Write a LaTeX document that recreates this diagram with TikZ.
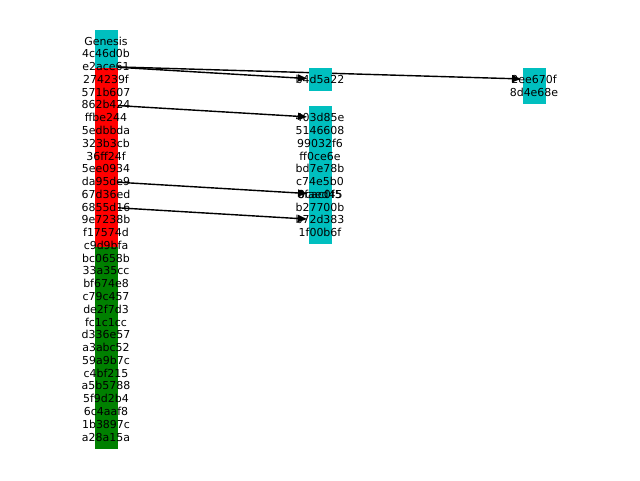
\documentclass[tikz,border=0pt]{standalone}
\usepackage{fontspec}
\setmainfont{DejaVu Sans}
\usepackage{tikz-network}
\usetikzlibrary{arrows.meta}
\definecolor{hashcyan}{rgb}{0,0.75,0.75}
\definecolor{hashred}{rgb}{1,0,0}
\definecolor{hashgreen}{rgb}{0,0.5,0}
\newcommand{\hashfont}{\fontsize{7.8}{9}\selectfont}
\tikzset{hashbox/.style={draw=none},
  forkarrow/.style={-{Triangle[length=6.5pt,width=5pt]}, shorten >=1pt}}

\begin{document}
\begin{tikzpicture}
\useasboundingbox (0,0) rectangle (16,-12);
% main chain
\Vertex[x=2.65, y=-1.025, size=0.575, shape=rectangle, color=hashcyan, opacity=1, style=hashbox, NoLabel]{Genesis}
\Vertex[x=2.65, y=-1.344, size=0.575, shape=rectangle, color=hashcyan, opacity=1, style=hashbox, NoLabel]{4c46d0b}
\Vertex[x=2.65, y=-1.664, size=0.575, shape=rectangle, color=hashcyan, opacity=1, style=hashbox, NoLabel]{e2ace61}
\Vertex[x=2.65, y=-1.983, size=0.575, shape=rectangle, color=hashred, opacity=1, style=hashbox, NoLabel]{274239f}
\Vertex[x=2.65, y=-2.302, size=0.575, shape=rectangle, color=hashred, opacity=1, style=hashbox, NoLabel]{571b607}
\Vertex[x=2.65, y=-2.622, size=0.575, shape=rectangle, color=hashred, opacity=1, style=hashbox, NoLabel]{862b424}
\Vertex[x=2.65, y=-2.941, size=0.575, shape=rectangle, color=hashred, opacity=1, style=hashbox, NoLabel]{ffbe244}
\Vertex[x=2.65, y=-3.260, size=0.575, shape=rectangle, color=hashred, opacity=1, style=hashbox, NoLabel]{5edbbda}
\Vertex[x=2.65, y=-3.580, size=0.575, shape=rectangle, color=hashred, opacity=1, style=hashbox, NoLabel]{323b3cb}
\Vertex[x=2.65, y=-3.899, size=0.575, shape=rectangle, color=hashred, opacity=1, style=hashbox, NoLabel]{36ff24f}
\Vertex[x=2.65, y=-4.219, size=0.575, shape=rectangle, color=hashred, opacity=1, style=hashbox, NoLabel]{5ee0934}
\Vertex[x=2.65, y=-4.538, size=0.575, shape=rectangle, color=hashred, opacity=1, style=hashbox, NoLabel]{da95de9}
\Vertex[x=2.65, y=-4.857, size=0.575, shape=rectangle, color=hashred, opacity=1, style=hashbox, NoLabel]{67d36ed}
\Vertex[x=2.65, y=-5.177, size=0.575, shape=rectangle, color=hashred, opacity=1, style=hashbox, NoLabel]{6855d16}
\Vertex[x=2.65, y=-5.496, size=0.575, shape=rectangle, color=hashred, opacity=1, style=hashbox, NoLabel]{9e7238b}
\Vertex[x=2.65, y=-5.815, size=0.575, shape=rectangle, color=hashred, opacity=1, style=hashbox, NoLabel]{f17574d}
\Vertex[x=2.65, y=-6.135, size=0.575, shape=rectangle, color=hashred, opacity=1, style=hashbox, NoLabel]{c9d9bfa}
\Vertex[x=2.65, y=-6.454, size=0.575, shape=rectangle, color=hashgreen, opacity=1, style=hashbox, NoLabel]{bc0658b}
\Vertex[x=2.65, y=-6.773, size=0.575, shape=rectangle, color=hashgreen, opacity=1, style=hashbox, NoLabel]{33a35cc}
\Vertex[x=2.65, y=-7.093, size=0.575, shape=rectangle, color=hashgreen, opacity=1, style=hashbox, NoLabel]{bf674e8}
\Vertex[x=2.65, y=-7.412, size=0.575, shape=rectangle, color=hashgreen, opacity=1, style=hashbox, NoLabel]{c79c457}
\Vertex[x=2.65, y=-7.731, size=0.575, shape=rectangle, color=hashgreen, opacity=1, style=hashbox, NoLabel]{de2f7d3}
\Vertex[x=2.65, y=-8.051, size=0.575, shape=rectangle, color=hashgreen, opacity=1, style=hashbox, NoLabel]{fc1c1cc}
\Vertex[x=2.65, y=-8.370, size=0.575, shape=rectangle, color=hashgreen, opacity=1, style=hashbox, NoLabel]{d336e57}
\Vertex[x=2.65, y=-8.689, size=0.575, shape=rectangle, color=hashgreen, opacity=1, style=hashbox, NoLabel]{a3abc52}
\Vertex[x=2.65, y=-9.009, size=0.575, shape=rectangle, color=hashgreen, opacity=1, style=hashbox, NoLabel]{59a9b7c}
\Vertex[x=2.65, y=-9.328, size=0.575, shape=rectangle, color=hashgreen, opacity=1, style=hashbox, NoLabel]{c4bf215}
\Vertex[x=2.65, y=-9.647, size=0.575, shape=rectangle, color=hashgreen, opacity=1, style=hashbox, NoLabel]{a5b5788}
\Vertex[x=2.65, y=-9.967, size=0.575, shape=rectangle, color=hashgreen, opacity=1, style=hashbox, NoLabel]{5f9d2b4}
\Vertex[x=2.65, y=-10.286, size=0.575, shape=rectangle, color=hashgreen, opacity=1, style=hashbox, NoLabel]{6c4aaf8}
\Vertex[x=2.65, y=-10.606, size=0.575, shape=rectangle, color=hashgreen, opacity=1, style=hashbox, NoLabel]{1b3897c}
\Vertex[x=2.65, y=-10.925, size=0.575, shape=rectangle, color=hashgreen, opacity=1, style=hashbox, NoLabel]{a28a15a}
% side branches
\Vertex[x=8, y=-1.983, size=0.575, shape=rectangle, color=hashcyan, opacity=1, style=hashbox, NoLabel]{b4d5a22}
\Vertex[x=8, y=-2.941, size=0.575, shape=rectangle, color=hashcyan, opacity=1, style=hashbox, NoLabel]{403d85e}
\Vertex[x=8, y=-3.260, size=0.575, shape=rectangle, color=hashcyan, opacity=1, style=hashbox, NoLabel]{5146608}
\Vertex[x=8, y=-3.580, size=0.575, shape=rectangle, color=hashcyan, opacity=1, style=hashbox, NoLabel]{99032f6}
\Vertex[x=8, y=-3.899, size=0.575, shape=rectangle, color=hashcyan, opacity=1, style=hashbox, NoLabel]{ff0ce6e}
\Vertex[x=8, y=-4.219, size=0.575, shape=rectangle, color=hashcyan, opacity=1, style=hashbox, NoLabel]{bd7e78b}
\Vertex[x=8, y=-4.538, size=0.575, shape=rectangle, color=hashcyan, opacity=1, style=hashbox, NoLabel]{c74e5b0}
\Vertex[x=8, y=-4.857, size=0.575, shape=rectangle, color=hashcyan, opacity=1, style=hashbox, NoLabel]{8faed45}
\Vertex[x=8, y=-4.857, size=0.575, shape=rectangle, color=hashcyan, opacity=1, style=hashbox, NoLabel]{0cac0f5}
\Vertex[x=8, y=-5.177, size=0.575, shape=rectangle, color=hashcyan, opacity=1, style=hashbox, NoLabel]{b27700b}
\Vertex[x=8, y=-5.496, size=0.575, shape=rectangle, color=hashcyan, opacity=1, style=hashbox, NoLabel]{b72d383}
\Vertex[x=8, y=-5.815, size=0.575, shape=rectangle, color=hashcyan, opacity=1, style=hashbox, NoLabel]{1f00b6f}
\Vertex[x=13.35, y=-1.983, size=0.575, shape=rectangle, color=hashcyan, opacity=1, style=hashbox, NoLabel]{2ee670f}
\Vertex[x=13.35, y=-2.302, size=0.575, shape=rectangle, color=hashcyan, opacity=1, style=hashbox, NoLabel]{8d4e68e}
% forks
\Edge[lw=1, color=black, opacity=1, style=forkarrow](e2ace61)(b4d5a22)
\Edge[lw=1, color=black, opacity=1, style=forkarrow](e2ace61)(2ee670f)
\Edge[lw=1, color=black, opacity=1, style=forkarrow](862b424)(403d85e)
\Edge[lw=1, color=black, opacity=1, style=forkarrow](da95de9)(8faed45)
\Edge[lw=1, color=black, opacity=1, style=forkarrow](6855d16)(b72d383)
% hashes
\Text[x=2.65, y=-1.025, fontsize=\hashfont]{Genesis}
\Text[x=2.65, y=-1.344, fontsize=\hashfont]{4c46d0b}
\Text[x=2.65, y=-1.664, fontsize=\hashfont]{e2ace61}
\Text[x=2.65, y=-1.983, fontsize=\hashfont]{274239f}
\Text[x=2.65, y=-2.302, fontsize=\hashfont]{571b607}
\Text[x=2.65, y=-2.622, fontsize=\hashfont]{862b424}
\Text[x=2.65, y=-2.941, fontsize=\hashfont]{ffbe244}
\Text[x=2.65, y=-3.260, fontsize=\hashfont]{5edbbda}
\Text[x=2.65, y=-3.580, fontsize=\hashfont]{323b3cb}
\Text[x=2.65, y=-3.899, fontsize=\hashfont]{36ff24f}
\Text[x=2.65, y=-4.219, fontsize=\hashfont]{5ee0934}
\Text[x=2.65, y=-4.538, fontsize=\hashfont]{da95de9}
\Text[x=2.65, y=-4.857, fontsize=\hashfont]{67d36ed}
\Text[x=2.65, y=-5.177, fontsize=\hashfont]{6855d16}
\Text[x=2.65, y=-5.496, fontsize=\hashfont]{9e7238b}
\Text[x=2.65, y=-5.815, fontsize=\hashfont]{f17574d}
\Text[x=2.65, y=-6.135, fontsize=\hashfont]{c9d9bfa}
\Text[x=2.65, y=-6.454, fontsize=\hashfont]{bc0658b}
\Text[x=2.65, y=-6.773, fontsize=\hashfont]{33a35cc}
\Text[x=2.65, y=-7.093, fontsize=\hashfont]{bf674e8}
\Text[x=2.65, y=-7.412, fontsize=\hashfont]{c79c457}
\Text[x=2.65, y=-7.731, fontsize=\hashfont]{de2f7d3}
\Text[x=2.65, y=-8.051, fontsize=\hashfont]{fc1c1cc}
\Text[x=2.65, y=-8.370, fontsize=\hashfont]{d336e57}
\Text[x=2.65, y=-8.689, fontsize=\hashfont]{a3abc52}
\Text[x=2.65, y=-9.009, fontsize=\hashfont]{59a9b7c}
\Text[x=2.65, y=-9.328, fontsize=\hashfont]{c4bf215}
\Text[x=2.65, y=-9.647, fontsize=\hashfont]{a5b5788}
\Text[x=2.65, y=-9.967, fontsize=\hashfont]{5f9d2b4}
\Text[x=2.65, y=-10.286, fontsize=\hashfont]{6c4aaf8}
\Text[x=2.65, y=-10.606, fontsize=\hashfont]{1b3897c}
\Text[x=2.65, y=-10.925, fontsize=\hashfont]{a28a15a}
\Text[x=8, y=-1.983, fontsize=\hashfont]{b4d5a22}
\Text[x=8, y=-2.941, fontsize=\hashfont]{403d85e}
\Text[x=8, y=-3.260, fontsize=\hashfont]{5146608}
\Text[x=8, y=-3.580, fontsize=\hashfont]{99032f6}
\Text[x=8, y=-3.899, fontsize=\hashfont]{ff0ce6e}
\Text[x=8, y=-4.219, fontsize=\hashfont]{bd7e78b}
\Text[x=8, y=-4.538, fontsize=\hashfont]{c74e5b0}
\Text[x=8, y=-4.857, fontsize=\hashfont]{8faed45}
\Text[x=8, y=-4.857, fontsize=\hashfont]{0cac0f5}
\Text[x=8, y=-5.177, fontsize=\hashfont]{b27700b}
\Text[x=8, y=-5.496, fontsize=\hashfont]{b72d383}
\Text[x=8, y=-5.815, fontsize=\hashfont]{1f00b6f}
\Text[x=13.35, y=-1.983, fontsize=\hashfont]{2ee670f}
\Text[x=13.35, y=-2.302, fontsize=\hashfont]{8d4e68e}
\end{tikzpicture}
\end{document}
